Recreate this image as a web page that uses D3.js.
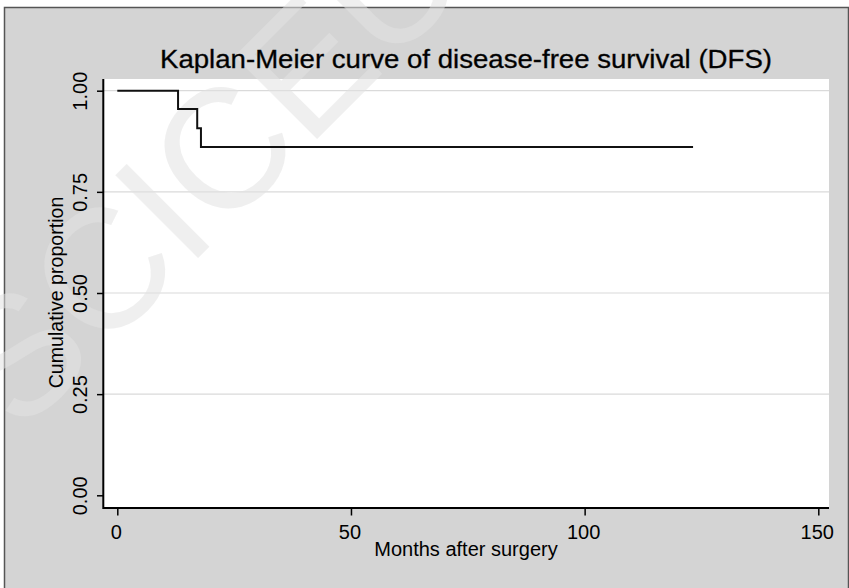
<!DOCTYPE html>
<html>
<head>
<meta charset="utf-8">
<script src="https://cdn.jsdelivr.net/npm/d3@7"></script>
<style>
  html, body { margin: 0; padding: 0; background: #ffffff; }
  svg { display: block; }
  text { font-family: "Liberation Sans", Arial, Helvetica, sans-serif; fill: #000; }
</style>
</head>
<body>
<svg id="chart" width="849" height="588"></svg>
<script>
// ---- data ----
const months   = [0, 13, 17.1, 17.9, 123.2];
const survival = [1, 0.955, 0.907, 0.861, 0.861];
const xTicks = [0, 50, 100, 150];
const yTicks = [0, 0.25, 0.5, 0.75, 1];
const yGrid  = [0.25, 0.5, 0.75, 1];
const titleText = "Kaplan-Meier curve of disease-free survival (DFS)";
const xTitle = "Months after surgery";
const yTitle = "Cumulative proportion";
const watermarkText = "SCICEU";

const svg = d3.select("#chart");
const W = 849, H = 588;

// plot region
const plot = { left: 103, top: 79, right: 829, bottom: 508 };

const x = d3.scaleLinear().domain([0, 150]).range([117.3, 818.3]);
const y = d3.scaleLinear().domain([0, 1]).range([495.3, 90.7]);

// outer grey background with border
svg.append("rect")
  .attr("x", 4.5).attr("y", 7.5)
  .attr("width", W - 5).attr("height", H)
  .attr("fill", "#d4d4d4")
  .attr("stroke", "#555").attr("stroke-width", 1.5);

// plot background
svg.append("rect")
  .attr("x", plot.left).attr("y", plot.top)
  .attr("width", plot.right - plot.left).attr("height", plot.bottom - plot.top)
  .attr("fill", "#ffffff");

// gridlines
svg.append("g").selectAll("line").data(yGrid).join("line")
  .attr("x1", plot.left).attr("x2", plot.right)
  .attr("y1", d => y(d)).attr("y2", d => y(d))
  .attr("stroke", "#dadada").attr("stroke-width", 1.2);

// faint watermark (beneath the marks)
svg.append("text")
  .attr("transform", "translate(20,436) rotate(-45)")
  .style("font-size", "170px")
  .style("fill", "#e2e2e2")
  .attr("fill-opacity", 0.55)
  .text(watermarkText);

// KM step curve
const pts = months.map((m, i) => [m, survival[i]]);
svg.append("path")
  .datum(pts)
  .attr("fill", "none")
  .attr("stroke", "#111")
  .attr("stroke-width", 2)
  .attr("d", d3.line().x(d => x(d[0])).y(d => y(d[1])).curve(d3.curveStepAfter));

// Y axis
const yAxis = svg.append("g")
  .attr("transform", `translate(${plot.left},0)`)
  .call(d3.axisLeft(y).tickValues(yTicks).tickSize(6).tickFormat(d3.format(".2f")));
yAxis.select(".domain").remove();
yAxis.selectAll(".tick line").attr("stroke", "#000").attr("stroke-width", 1.5);
yAxis.selectAll(".tick text")
  .attr("x", 0).attr("y", -15.7).attr("dy", 0)
  .attr("transform", "rotate(-90)")
  .attr("text-anchor", "middle")
  .style("font-size", "20px")
  .attr("font-family", null)
  .attr("fill", "#000");

// X axis
const xAxis = svg.append("g")
  .attr("transform", `translate(0,${plot.bottom + 0.5})`)
  .call(d3.axisBottom(x).tickValues(xTicks).tickSize(7).tickFormat(d3.format("d")));
xAxis.select(".domain").remove();
xAxis.selectAll(".tick line").attr("stroke", "#000").attr("stroke-width", 1.5);
xAxis.selectAll(".tick text")
  .attr("y", 30.8).attr("dy", 0).attr("x", -1.5)
  .style("font-size", "20px")
  .attr("font-family", null)
  .attr("fill", "#000");

// axis lines (left and bottom frame)
svg.append("line")
  .attr("x1", plot.left + 0.3).attr("x2", plot.left + 0.3)
  .attr("y1", plot.top).attr("y2", plot.bottom + 1)
  .attr("stroke", "#000").attr("stroke-width", 2);
svg.append("line")
  .attr("x1", plot.left).attr("x2", plot.right)
  .attr("y1", plot.bottom).attr("y2", plot.bottom)
  .attr("stroke", "#000").attr("stroke-width", 2);

// titles
svg.append("text")
  .attr("x", 466).attr("y", 68.3)
  .attr("text-anchor", "middle")
  .attr("textLength", 612).attr("lengthAdjust", "spacingAndGlyphs")
  .style("font-size", "26.5px")
  .attr("fill", "#111")
  .attr("stroke", "#111").attr("stroke-width", 0.35)
  .text(titleText);

svg.append("text")
  .attr("x", 466).attr("y", 556)
  .attr("text-anchor", "middle")
  .style("font-size", "20px")
  .text(xTitle);

svg.append("text")
  .attr("transform", `translate(62.5,292.5) rotate(-90)`)
  .attr("text-anchor", "middle")
  .style("font-size", "19.6px")
  .text(yTitle);
</script>
</body>
</html>
